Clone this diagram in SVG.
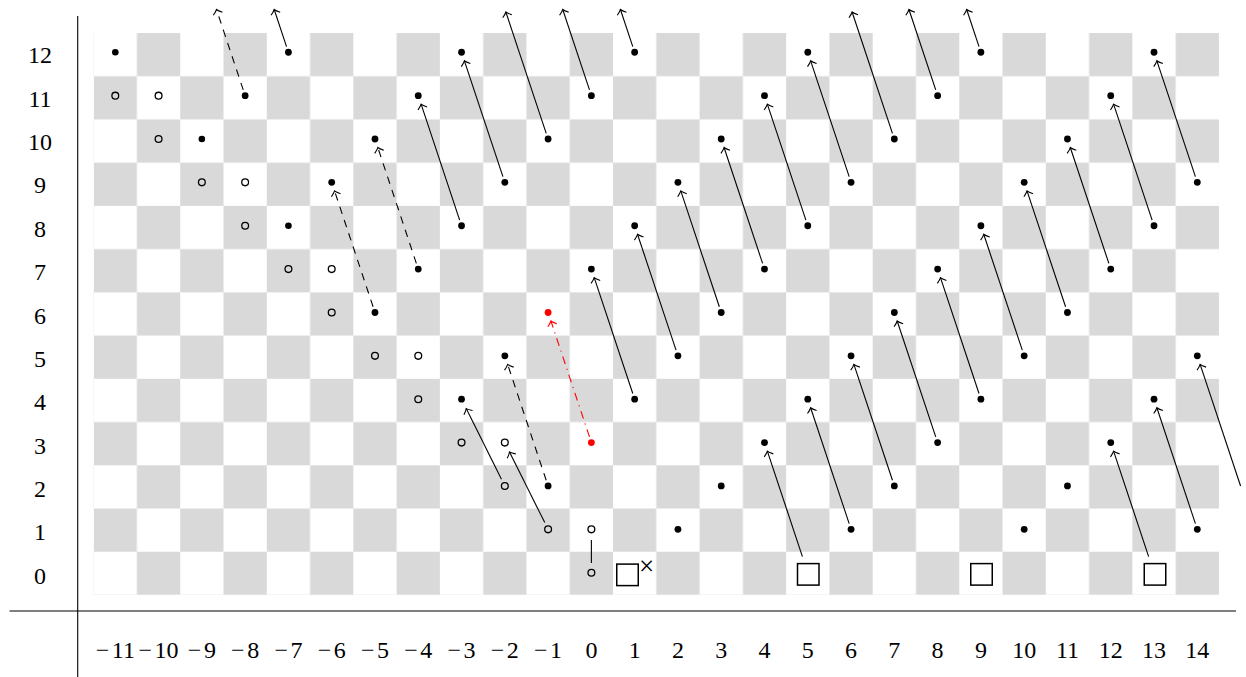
<svg xmlns="http://www.w3.org/2000/svg" width="1246" height="677" viewBox="0 0 1246 677">
<style>
.dot{fill:#000}
.red{fill:#f00}
.oc{fill:none;stroke:#000;stroke-width:1.3}
.sq{fill:none;stroke:#000;stroke-width:1.5}
.ar{fill:none;stroke:#000;stroke-width:1.1;marker-end:url(#ah)}
.da{stroke-dasharray:7.5 6.5}
.rd{stroke:#f00;stroke-dasharray:8 5 1.2 5;marker-end:url(#ahr)}
.ln{fill:none;stroke:#000;stroke-width:1.1}
.lbl{font-family:"Liberation Serif","Times New Roman",serif;font-size:24px;fill:#000;text-anchor:middle}
</style>
<defs>
<pattern id="chk" patternUnits="userSpaceOnUse" x="93.66" y="33" width="86.56" height="86.46">
<rect x="43.28" y="0" width="43.28" height="43.23" fill="#d9d9d9"/>
<rect x="0" y="43.23" width="43.28" height="43.23" fill="#d9d9d9"/>
</pattern>
<marker id="ah" viewBox="-7 -7 9 14" markerWidth="9" markerHeight="14" refX="0" refY="0" orient="auto" markerUnits="userSpaceOnUse">
<path d="M -4.5 -4.8 Q -1.8 -1.2 0 0 Q -1.8 1.2 -4.5 4.8" fill="none" stroke="#000" stroke-width="1.1" stroke-dasharray="none"/>
</marker>
<marker id="ahr" viewBox="-7 -7 9 14" markerWidth="9" markerHeight="14" refX="0" refY="0" orient="auto" markerUnits="userSpaceOnUse">
<path d="M -4.5 -4.8 Q -1.8 -1.2 0 0 Q -1.8 1.2 -4.5 4.8" fill="none" stroke="#f00" stroke-width="1.1" stroke-dasharray="none"/>
</marker>
</defs>

<g id="board">
<rect x="93.66" y="33" width="1125.28" height="561.99" fill="url(#chk)"/>
</g>

<g id="axes">
<line class="ln" x1="77.7" y1="16" x2="77.7" y2="677"/>
<line class="ln" x1="9.5" y1="611" x2="1236" y2="611"/>
</g>

<g id="row-labels" class="lbl">
<text x="40" y="63.3">12</text>
<text x="40" y="106.6">11</text>
<text x="40" y="150">10</text>
<text x="40" y="193.4">9</text>
<text x="40" y="236.7">8</text>
<text x="40" y="280.1">7</text>
<text x="40" y="323.5">6</text>
<text x="40" y="366.9">5</text>
<text x="40" y="410.2">4</text>
<text x="40" y="453.6">3</text>
<text x="40" y="497">2</text>
<text x="40" y="540.3">1</text>
<text x="40" y="583.7">0</text>
</g>

<g id="col-labels" class="lbl">
<text x="115.3" y="658">−<tspan dx="2.5">11</tspan></text>
<text x="158.58" y="658">−<tspan dx="2.5">10</tspan></text>
<text x="201.86" y="658">−<tspan dx="2.5">9</tspan></text>
<text x="245.14" y="658">−<tspan dx="2.5">8</tspan></text>
<text x="288.42" y="658">−<tspan dx="2.5">7</tspan></text>
<text x="331.7" y="658">−<tspan dx="2.5">6</tspan></text>
<text x="374.98" y="658">−<tspan dx="2.5">5</tspan></text>
<text x="418.26" y="658">−<tspan dx="2.5">4</tspan></text>
<text x="461.54" y="658">−<tspan dx="2.5">3</tspan></text>
<text x="504.82" y="658">−<tspan dx="2.5">2</tspan></text>
<text x="548.1" y="658">−<tspan dx="2.5">1</tspan></text>
<text x="591.38" y="658">0</text>
<text x="634.66" y="658">1</text>
<text x="677.94" y="658">2</text>
<text x="721.22" y="658">3</text>
<text x="764.5" y="658">4</text>
<text x="807.78" y="658">5</text>
<text x="851.06" y="658">6</text>
<text x="894.34" y="658">7</text>
<text x="937.62" y="658">8</text>
<text x="980.9" y="658">9</text>
<text x="1024.18" y="658">10</text>
<text x="1067.46" y="658">11</text>
<text x="1110.74" y="658">12</text>
<text x="1154.02" y="658">13</text>
<text x="1197.3" y="658">14</text>
</g>

<g id="connectors">
<path class="ar" d="M286.53 46.57 L274.2 9.5"/>
<path class="ar" d="M459.65 220.05 L421.1 104.17"/>
<path class="ar" d="M502.93 176.68 L464.38 60.8"/>
<path class="ar" d="M546.21 133.31 L505.86 12"/>
<path class="ar" d="M589.49 89.94 L562.73 9.5"/>
<path class="ar" d="M632.77 46.57 L620.44 9.5"/>
<path class="ar" d="M632.77 393.53 L594.22 277.65"/>
<path class="ar" d="M676.05 350.16 L637.5 234.28"/>
<path class="ar" d="M719.33 306.79 L680.78 190.91"/>
<path class="ar" d="M762.61 263.42 L724.06 147.54"/>
<path class="ar" d="M805.89 220.05 L767.34 104.17"/>
<path class="ar" d="M849.17 176.68 L810.62 60.8"/>
<path class="ar" d="M892.45 133.31 L852.1 12"/>
<path class="ar" d="M935.73 89.94 L908.97 9.5"/>
<path class="ar" d="M979.01 46.57 L966.68 9.5"/>
<path class="ar" d="M802.41 556.57 L767.34 451.13"/>
<path class="ar" d="M849.17 523.64 L810.62 407.76"/>
<path class="ar" d="M892.45 480.27 L853.9 364.39"/>
<path class="ar" d="M935.73 436.9 L897.18 321.02"/>
<path class="ar" d="M979.01 393.53 L940.46 277.65"/>
<path class="ar" d="M1022.29 350.16 L983.74 234.28"/>
<path class="ar" d="M1065.57 306.79 L1027.02 190.91"/>
<path class="ar" d="M1108.85 263.42 L1070.3 147.54"/>
<path class="ar" d="M1152.13 220.05 L1113.58 104.17"/>
<path class="ar" d="M1195.41 176.68 L1156.86 60.8"/>
<path class="ar" d="M1148.65 556.57 L1113.58 451.13"/>
<path class="ar" d="M1195.41 523.64 L1156.86 407.76"/>
<path class="ar" d="M1240.58 485.96 L1200.14 364.39"/>
<path class="ar" d="M501.47 479.25 L466.23 408.62"/>
<path class="ar" d="M544.75 522.62 L509.51 451.99"/>
<path class="ln" d="M591.38 540 L591.38 563"/>
<path class="ar da" d="M243.25 89.94 L216.49 9.5"/>
<path class="ar da" d="M373.09 306.79 L334.54 190.91"/>
<path class="ar da" d="M416.37 263.42 L377.82 147.54"/>
<path class="ar da" d="M546.21 480.27 L507.66 364.39"/>
<path class="ar rd" d="M589.49 436.9 L550.94 321.02"/>
</g>

<g id="nodes">
<g id="d-11_12"><circle class="dot" cx="115.3" cy="52.26" r="3.3"/></g>
<g id="d-7_12"><circle class="dot" cx="288.42" cy="52.26" r="3.4"/></g>
<g id="d-3_12"><circle class="dot" cx="461.54" cy="52.26" r="3.4"/></g>
<g id="d1_12"><circle class="dot" cx="634.66" cy="52.26" r="3.4"/></g>
<g id="d5_12"><circle class="dot" cx="807.78" cy="52.26" r="3.4"/></g>
<g id="d9_12"><circle class="dot" cx="980.9" cy="52.26" r="3.4"/></g>
<g id="d13_12"><circle class="dot" cx="1154.02" cy="52.26" r="3.4"/></g>
<g id="d-8_11"><circle class="dot" cx="245.14" cy="95.63" r="3.4"/></g>
<g id="d-4_11"><circle class="dot" cx="418.26" cy="95.63" r="3.4"/></g>
<g id="d0_11"><circle class="dot" cx="591.38" cy="95.63" r="3.4"/></g>
<g id="d4_11"><circle class="dot" cx="764.5" cy="95.63" r="3.4"/></g>
<g id="d8_11"><circle class="dot" cx="937.62" cy="95.63" r="3.4"/></g>
<g id="d12_11"><circle class="dot" cx="1110.74" cy="95.63" r="3.4"/></g>
<g id="d-9_10"><circle class="dot" cx="201.86" cy="139" r="3.3"/></g>
<g id="d-5_10"><circle class="dot" cx="374.98" cy="139" r="3.4"/></g>
<g id="d-1_10"><circle class="dot" cx="548.1" cy="139" r="3.4"/></g>
<g id="d3_10"><circle class="dot" cx="721.22" cy="139" r="3.4"/></g>
<g id="d7_10"><circle class="dot" cx="894.34" cy="139" r="3.4"/></g>
<g id="d11_10"><circle class="dot" cx="1067.46" cy="139" r="3.4"/></g>
<g id="d-6_9"><circle class="dot" cx="331.7" cy="182.37" r="3.4"/></g>
<g id="d-2_9"><circle class="dot" cx="504.82" cy="182.37" r="3.4"/></g>
<g id="d2_9"><circle class="dot" cx="677.94" cy="182.37" r="3.4"/></g>
<g id="d6_9"><circle class="dot" cx="851.06" cy="182.37" r="3.4"/></g>
<g id="d10_9"><circle class="dot" cx="1024.18" cy="182.37" r="3.4"/></g>
<g id="d14_9"><circle class="dot" cx="1197.3" cy="182.37" r="3.4"/></g>
<g id="d-7_8"><circle class="dot" cx="288.42" cy="225.74" r="3.3"/></g>
<g id="d-3_8"><circle class="dot" cx="461.54" cy="225.74" r="3.4"/></g>
<g id="d1_8"><circle class="dot" cx="634.66" cy="225.74" r="3.4"/></g>
<g id="d5_8"><circle class="dot" cx="807.78" cy="225.74" r="3.4"/></g>
<g id="d9_8"><circle class="dot" cx="980.9" cy="225.74" r="3.4"/></g>
<g id="d13_8"><circle class="dot" cx="1154.02" cy="225.74" r="3.4"/></g>
<g id="d-4_7"><circle class="dot" cx="418.26" cy="269.11" r="3.4"/></g>
<g id="d0_7"><circle class="dot" cx="591.38" cy="269.11" r="3.4"/></g>
<g id="d4_7"><circle class="dot" cx="764.5" cy="269.11" r="3.4"/></g>
<g id="d8_7"><circle class="dot" cx="937.62" cy="269.11" r="3.4"/></g>
<g id="d12_7"><circle class="dot" cx="1110.74" cy="269.11" r="3.4"/></g>
<g id="d-5_6"><circle class="dot" cx="374.98" cy="312.48" r="3.4"/></g>
<g id="d-1_6"><circle class="red" cx="548.1" cy="312.48" r="3.4"/></g>
<g id="d3_6"><circle class="dot" cx="721.22" cy="312.48" r="3.4"/></g>
<g id="d7_6"><circle class="dot" cx="894.34" cy="312.48" r="3.4"/></g>
<g id="d11_6"><circle class="dot" cx="1067.46" cy="312.48" r="3.4"/></g>
<g id="d-2_5"><circle class="dot" cx="504.82" cy="355.85" r="3.4"/></g>
<g id="d2_5"><circle class="dot" cx="677.94" cy="355.85" r="3.4"/></g>
<g id="d6_5"><circle class="dot" cx="851.06" cy="355.85" r="3.4"/></g>
<g id="d10_5"><circle class="dot" cx="1024.18" cy="355.85" r="3.4"/></g>
<g id="d14_5"><circle class="dot" cx="1197.3" cy="355.85" r="3.4"/></g>
<g id="d-3_4"><circle class="dot" cx="461.54" cy="399.22" r="3.4"/></g>
<g id="d1_4"><circle class="dot" cx="634.66" cy="399.22" r="3.4"/></g>
<g id="d5_4"><circle class="dot" cx="807.78" cy="399.22" r="3.4"/></g>
<g id="d9_4"><circle class="dot" cx="980.9" cy="399.22" r="3.4"/></g>
<g id="d13_4"><circle class="dot" cx="1154.02" cy="399.22" r="3.4"/></g>
<g id="d0_3"><circle class="red" cx="591.38" cy="442.59" r="3.4"/></g>
<g id="d4_3"><circle class="dot" cx="764.5" cy="442.59" r="3.4"/></g>
<g id="d8_3"><circle class="dot" cx="937.62" cy="442.59" r="3.4"/></g>
<g id="d12_3"><circle class="dot" cx="1110.74" cy="442.59" r="3.4"/></g>
<g id="d-1_2"><circle class="dot" cx="548.1" cy="485.96" r="3.4"/></g>
<g id="d3_2"><circle class="dot" cx="721.22" cy="485.96" r="3.4"/></g>
<g id="d7_2"><circle class="dot" cx="894.34" cy="485.96" r="3.4"/></g>
<g id="d11_2"><circle class="dot" cx="1067.46" cy="485.96" r="3.4"/></g>
<g id="d2_1"><circle class="dot" cx="677.94" cy="529.33" r="3.4"/></g>
<g id="d6_1"><circle class="dot" cx="851.06" cy="529.33" r="3.4"/></g>
<g id="d10_1"><circle class="dot" cx="1024.18" cy="529.33" r="3.4"/></g>
<g id="d14_1"><circle class="dot" cx="1197.3" cy="529.33" r="3.4"/></g>

<g id="o-11_11"><circle class="oc" cx="115.3" cy="95.63" r="3.4"/></g>
<g id="o-10_11"><circle class="oc" cx="158.58" cy="95.63" r="3.4"/></g>
<g id="o-10_10"><circle class="oc" cx="158.58" cy="139" r="3.4"/></g>
<g id="o-9_9"><circle class="oc" cx="201.86" cy="182.37" r="3.4"/></g>
<g id="o-8_9"><circle class="oc" cx="245.14" cy="182.37" r="3.4"/></g>
<g id="o-8_8"><circle class="oc" cx="245.14" cy="225.74" r="3.4"/></g>
<g id="o-7_7"><circle class="oc" cx="288.42" cy="269.11" r="3.4"/></g>
<g id="o-6_7"><circle class="oc" cx="331.7" cy="269.11" r="3.4"/></g>
<g id="o-6_6"><circle class="oc" cx="331.7" cy="312.48" r="3.4"/></g>
<g id="o-5_5"><circle class="oc" cx="374.98" cy="355.85" r="3.4"/></g>
<g id="o-4_5"><circle class="oc" cx="418.26" cy="355.85" r="3.4"/></g>
<g id="o-4_4"><circle class="oc" cx="418.26" cy="399.22" r="3.4"/></g>
<g id="o-3_3"><circle class="oc" cx="461.54" cy="442.59" r="3.4"/></g>
<g id="o-2_3"><circle class="oc" cx="504.82" cy="442.59" r="3.4"/></g>
<g id="o-2_2"><circle class="oc" cx="504.82" cy="485.96" r="3.4"/></g>
<g id="o-1_1"><circle class="oc" cx="548.1" cy="529.33" r="3.4"/></g>
<g id="o0_1"><circle class="oc" cx="591.38" cy="529.33" r="3.4"/></g>
<g id="o0_0"><circle class="oc" cx="591.38" cy="572.7" r="3.4"/></g>

<g id="s1_0"><rect class="sq" x="616.75" y="564.1" width="21.5" height="21.5"/><text class="lbl" x="646.7" y="574.5" style="font-size:27px">×</text></g>
<g id="s5_0"><rect class="sq" x="797.5" y="563.6" width="21.5" height="21.5"/></g>
<g id="s9_0"><rect class="sq" x="970.75" y="563.6" width="21.5" height="21.5"/></g>
<g id="s13_0"><rect class="sq" x="1144.25" y="563.6" width="21.5" height="21.5"/></g>
</g>
</svg>
